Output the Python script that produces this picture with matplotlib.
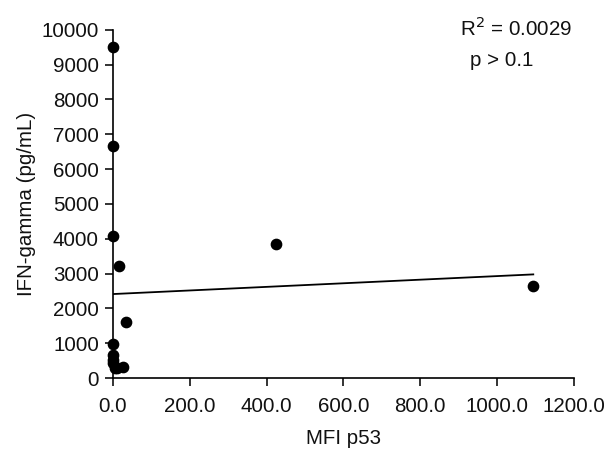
import matplotlib
matplotlib.use("Agg")
import matplotlib.pyplot as plt
import numpy as np

plt.rcParams['font.family'] = ['Liberation Sans', 'DejaVu Sans']

# Data
mfi_p53 = [0, 0, 0, 15, 34, 0, 0, 0, 0, 5, 10, 26, 425, 1094]
ifn_gamma = [9500, 6650, 4080, 3220, 1600, 980, 660, 530, 420, 290, 280, 325, 3845, 2640]

# Trend line
trend_intercept = 2410
trend_slope = 0.516

x_ticks = [0, 200, 400, 600, 800, 1000, 1200]
x_tick_labels = ["0.0", "200.0", "400.0", "600.0", "800.0", "1000.0", "1200.0"]
y_ticks = [0, 1000, 2000, 3000, 4000, 5000, 6000, 7000, 8000, 9000, 10000]

r2_text = "R$^{2}$ = 0.0029"
p_text = "p > 0.1"

fs = 14.8

fig = plt.figure(figsize=(6.1, 4.5), dpi=100)
ax = fig.add_axes([0.185, 0.16, 0.756, 0.774])

ax.scatter(mfi_p53, ifn_gamma, s=55, color='black', zorder=3, clip_on=False)

tx = np.array([0, max(mfi_p53)])
ax.plot(tx, trend_intercept + trend_slope * tx, color='black', lw=1.3, zorder=2)

ax.set_xlim(0, 1200)
ax.set_ylim(0, 10000)
ax.set_xticks(x_ticks)
ax.set_xticklabels(x_tick_labels)
ax.set_yticks(y_ticks)

for s in ['top', 'right']:
    ax.spines[s].set_visible(False)
for s in ['left', 'bottom']:
    ax.spines[s].set_linewidth(1.2)
ax.tick_params(direction='out', length=6, width=1.2, labelsize=fs, pad=4, colors='#111111')
ax.tick_params(axis='x', pad=8)

ax.set_xlabel("MFI p53", fontsize=fs, labelpad=9, color='#111111')
ax.set_ylabel("IFN-gamma (pg/mL)", fontsize=fs, labelpad=4, color='#111111')

fig.text(0.754, 0.938, r2_text, fontsize=fs, ha='left', va='center', color='#111111')
fig.text(0.770, 0.866, p_text, fontsize=fs, ha='left', va='center', color='#111111')

fig.savefig("out.png", dpi=100)
